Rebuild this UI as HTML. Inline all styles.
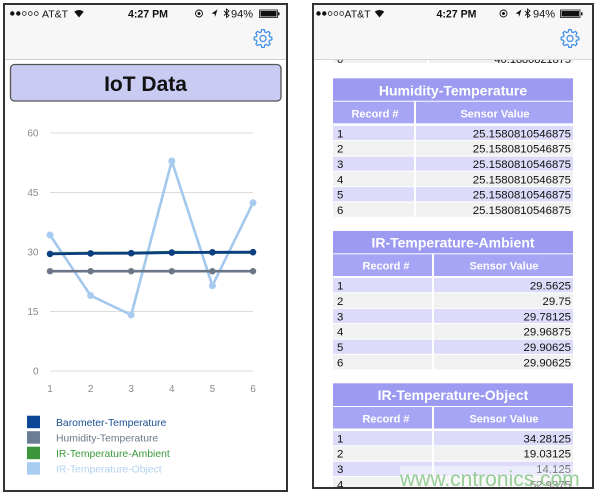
<!DOCTYPE html>
<html><head><meta charset="utf-8"><style>
html,body{margin:0;padding:0;background:#fff;}
svg{display:block;}
text{font-family:"Liberation Sans",Arial,sans-serif;}
</style></head><body>
<svg width="600" height="496" viewBox="0 0 600 496" xmlns="http://www.w3.org/2000/svg">
<defs>
<clipPath id="cr"><rect x="313" y="4" width="280" height="484"/></clipPath>
<g id="gear">
<polygon points="5.77,-1.66 7.92,-1.11 7.92,1.11 5.77,1.66 5.25,2.91 6.39,4.81 4.81,6.39 2.91,5.25 1.66,5.77 1.11,7.92 -1.11,7.92 -1.66,5.77 -2.91,5.25 -4.81,6.39 -6.39,4.81 -5.25,2.91 -5.77,1.66 -7.92,1.11 -7.92,-1.11 -5.77,-1.66 -5.25,-2.91 -6.39,-4.81 -4.81,-6.39 -2.91,-5.25 -1.66,-5.77 -1.11,-7.92 1.11,-7.92 1.66,-5.77 2.91,-5.25 4.81,-6.39 6.39,-4.81 5.25,-2.91" fill="none" stroke="#3d8ee8" stroke-width="1.1" stroke-linejoin="round"/>
<circle cx="0" cy="0" r="2.7" fill="none" stroke="#3d8ee8" stroke-width="1.1"/>
</g>
</defs>
<rect width="600" height="496" fill="#fff"/>

<!-- ================= LEFT PHONE ================= -->
<rect x="4" y="4" width="283" height="55" fill="#f7f7f7"/>
<line x1="4" y1="59.5" x2="287" y2="59.5" stroke="#cfcfcf" stroke-width="1"/>
<!-- status bar -->
<circle cx="12.3" cy="13.5" r="2.2" fill="#111"/>
<circle cx="18.3" cy="13.5" r="2.2" fill="#111"/>
<circle cx="24.3" cy="13.5" r="1.9" fill="none" stroke="#111" stroke-width="0.7"/>
<circle cx="30.3" cy="13.5" r="1.9" fill="none" stroke="#111" stroke-width="0.7"/>
<circle cx="36.3" cy="13.5" r="1.9" fill="none" stroke="#111" stroke-width="0.7"/>
<text x="42" y="17.5" font-size="10.5" fill="#111">AT&amp;T</text>
<path d="M79,17.5 L74.3,11.8 A7,7 0 0 1 83.7,11.8 Z" fill="#111"/>
<text x="148" y="17.5" font-size="10.6" font-weight="bold" fill="#111" text-anchor="middle">4:27 PM</text>
<circle cx="199" cy="13.5" r="3.5" fill="none" stroke="#111" stroke-width="0.9"/>
<circle cx="199" cy="13.5" r="1.5" fill="#111"/>
<path d="M217.5,9.5 L211.5,13.5 L214.5,13.8 L215,17 Z" fill="#111"/>
<path d="M224,11 L229,15.5 L226.5,17.5 L226.5,9 L229,11 L224,15.5" fill="none" stroke="#111" stroke-width="0.9"/>
<text x="231" y="17.5" font-size="11" fill="#111">94%</text>
<rect x="259.5" y="10" width="18" height="7.5" fill="none" stroke="#111" stroke-width="0.8"/>
<rect x="260.5" y="11" width="16" height="5.5" fill="#111"/>
<rect x="278" y="12.3" width="1.5" height="3" fill="#111"/>
<use href="#gear" transform="translate(263,38.5) scale(1.12)"/>

<!-- title box -->
<rect x="10.5" y="64.5" width="270.5" height="36.5" rx="4" fill="#c9cbf3" stroke="#555" stroke-width="1.3"/>
<text x="145.5" y="91" font-size="21" font-weight="bold" fill="#111" text-anchor="middle">IoT Data</text>

<!-- chart grid -->
<g stroke="#dcdcdc" stroke-width="1">
<line x1="50" y1="133" x2="253" y2="133"/>
<line x1="50" y1="192.5" x2="253" y2="192.5"/>
<line x1="50" y1="252" x2="253" y2="252"/>
<line x1="50" y1="311.5" x2="253" y2="311.5"/>
<line x1="50" y1="371" x2="253" y2="371"/>
</g>
<g font-size="10" fill="#8a8a8a" text-anchor="end">
<text x="38.5" y="136.5">60</text>
<text x="38.5" y="196">45</text>
<text x="38.5" y="255.5">30</text>
<text x="38.5" y="315">15</text>
<text x="38.5" y="374.5">0</text>
</g>
<g font-size="10" fill="#8a8a8a" text-anchor="middle">
<text x="50" y="392">1</text>
<text x="90.6" y="392">2</text>
<text x="131.2" y="392">3</text>
<text x="171.8" y="392">4</text>
<text x="212.4" y="392">5</text>
<text x="253" y="392">6</text>
</g>

<!-- series -->
<polyline points="50,235 90.6,295.5 131.2,315 171.8,161 212.4,285.7 253,202.8" fill="none" stroke="#a3c8ee" stroke-width="2.6" stroke-linejoin="round"/>
<g fill="#a8ccf0">
<circle cx="50" cy="235" r="3.5"/><circle cx="90.6" cy="295.5" r="3.5"/><circle cx="131.2" cy="315" r="3.5"/><circle cx="171.8" cy="161" r="3.5"/><circle cx="212.4" cy="285.7" r="3.5"/><circle cx="253" cy="202.8" r="3.5"/>
</g>
<polyline points="50,271.2 90.6,271.2 131.2,271.2 171.8,271.2 212.4,271.2 253,271.2" fill="none" stroke="#6b7788" stroke-width="2.6"/>
<g fill="#6b7788">
<circle cx="50" cy="271.2" r="3.2"/><circle cx="90.6" cy="271.2" r="3.2"/><circle cx="131.2" cy="271.2" r="3.2"/><circle cx="171.8" cy="271.2" r="3.2"/><circle cx="212.4" cy="271.2" r="3.2"/><circle cx="253" cy="271.2" r="3.2"/>
</g>
<polyline points="50,253.7 90.6,253 131.2,252.9 171.8,252.1 212.4,252.4 253,252.4" fill="none" stroke="#3b963b" stroke-width="2.6"/>
<polyline points="50,253.9 90.6,253.4 131.2,253.2 171.8,252.6 212.4,252.3 253,252.2" fill="none" stroke="#0c3f80" stroke-width="2.8"/>
<g fill="#0c3f80">
<circle cx="50" cy="253.9" r="3.3"/><circle cx="90.6" cy="253.4" r="3.3"/><circle cx="131.2" cy="253.2" r="3.3"/><circle cx="171.8" cy="252.6" r="3.3"/><circle cx="212.4" cy="252.3" r="3.3"/><circle cx="253" cy="252.2" r="3.3"/>
</g>

<!-- legend -->
<rect x="27" y="415.7" width="13" height="12.5" fill="#0c4796"/>
<rect x="27" y="431.2" width="13" height="12.5" fill="#6b7d94"/>
<rect x="27" y="446.7" width="13" height="12.5" fill="#3b963b"/>
<rect x="27" y="462.2" width="13" height="12.5" fill="#a8cdf1"/>
<g font-size="10.4">
<text x="56" y="426" fill="#1a4f8f">Barometer-Temperature</text>
<text x="56" y="441.5" fill="#6b7a8a">Humidity-Temperature</text>
<text x="56" y="457" fill="#3a9a3a">IR-Temperature-Ambient</text>
<text x="56" y="472.5" fill="#b3d2f0">IR-Temperature-Object</text>
</g>

<rect x="4" y="4" width="283" height="487" fill="none" stroke="#333" stroke-width="2"/>

<!-- ================= RIGHT PHONE ================= -->
<g clip-path="url(#cr)">
<!-- partial row at top -->
<rect x="333" y="52" width="94" height="11" fill="#f1f1f1"/>
<rect x="429" y="52" width="144" height="11" fill="#f1f1f1"/>
<g font-size="11" fill="#111">
<text x="337" y="63">6</text>
<text x="571" y="63" text-anchor="end">40.1880821875</text>
</g>

<!-- Humidity table -->
<rect x="333" y="78.3" width="240" height="22.4" fill="#9d9af2"/>
<text x="453" y="95.7" font-size="14" font-weight="bold" fill="#fff" text-anchor="middle">Humidity-Temperature</text>
<rect x="333" y="101.7" width="81" height="21.6" fill="#a6a4f4"/>
<rect x="416" y="101.7" width="157" height="21.6" fill="#a6a4f4"/>
<g font-size="11" font-weight="bold" fill="#fff" text-anchor="middle">
<text x="375" y="117.3">Record #</text>
<text x="495" y="117.3">Sensor Value</text>
</g>
<g>
<rect x="333" y="125.8" width="81" height="14.3" fill="#dcdcfa"/><rect x="416" y="125.8" width="157" height="14.3" fill="#dcdcfa"/>
<rect x="333" y="141.1" width="81" height="14.3" fill="#f1f1f1"/><rect x="416" y="141.1" width="157" height="14.3" fill="#f1f1f1"/>
<rect x="333" y="156.5" width="81" height="14.3" fill="#dcdcfa"/><rect x="416" y="156.5" width="157" height="14.3" fill="#dcdcfa"/>
<rect x="333" y="171.8" width="81" height="14.3" fill="#f1f1f1"/><rect x="416" y="171.8" width="157" height="14.3" fill="#f1f1f1"/>
<rect x="333" y="187.1" width="81" height="14.3" fill="#dcdcfa"/><rect x="416" y="187.1" width="157" height="14.3" fill="#dcdcfa"/>
<rect x="333" y="202.5" width="81" height="14.3" fill="#f1f1f1"/><rect x="416" y="202.5" width="157" height="14.3" fill="#f1f1f1"/>
</g>
<g font-size="11.4" fill="#111">
<text x="337" y="137.3">1</text><text x="571" y="137.3" text-anchor="end">25.1580810546875</text>
<text x="337" y="152.7">2</text><text x="571" y="152.7" text-anchor="end">25.1580810546875</text>
<text x="337" y="168">3</text><text x="571" y="168" text-anchor="end">25.1580810546875</text>
<text x="337" y="183.3">4</text><text x="571" y="183.3" text-anchor="end">25.1580810546875</text>
<text x="337" y="198.7">5</text><text x="571" y="198.7" text-anchor="end">25.1580810546875</text>
<text x="337" y="214">6</text><text x="571" y="214" text-anchor="end">25.1580810546875</text>
</g>

<!-- IR Ambient table -->
<rect x="333" y="231" width="240" height="22.3" fill="#9d9af2"/>
<text x="453" y="247.7" font-size="14" font-weight="bold" fill="#fff" text-anchor="middle">IR-Temperature-Ambient</text>
<rect x="333" y="254.3" width="99" height="21.7" fill="#a6a4f4"/>
<rect x="434" y="254.3" width="139" height="21.7" fill="#a6a4f4"/>
<g font-size="11" font-weight="bold" fill="#fff" text-anchor="middle">
<text x="386" y="269.7">Record #</text>
<text x="504" y="269.7">Sensor Value</text>
</g>
<g>
<rect x="333" y="278" width="99" height="14.3" fill="#dcdcfa"/><rect x="434" y="278" width="139" height="14.3" fill="#dcdcfa"/>
<rect x="333" y="293.4" width="99" height="14.3" fill="#f1f1f1"/><rect x="434" y="293.4" width="139" height="14.3" fill="#f1f1f1"/>
<rect x="333" y="308.8" width="99" height="14.3" fill="#dcdcfa"/><rect x="434" y="308.8" width="139" height="14.3" fill="#dcdcfa"/>
<rect x="333" y="324.2" width="99" height="14.3" fill="#f1f1f1"/><rect x="434" y="324.2" width="139" height="14.3" fill="#f1f1f1"/>
<rect x="333" y="339.6" width="99" height="14.3" fill="#dcdcfa"/><rect x="434" y="339.6" width="139" height="14.3" fill="#dcdcfa"/>
<rect x="333" y="355" width="99" height="14.3" fill="#f1f1f1"/><rect x="434" y="355" width="139" height="14.3" fill="#f1f1f1"/>
</g>
<g font-size="11.4" fill="#111">
<text x="337" y="289.5">1</text><text x="571" y="289.5" text-anchor="end">29.5625</text>
<text x="337" y="304.9">2</text><text x="571" y="304.9" text-anchor="end">29.75</text>
<text x="337" y="320.3">3</text><text x="571" y="320.3" text-anchor="end">29.78125</text>
<text x="337" y="335.7">4</text><text x="571" y="335.7" text-anchor="end">29.96875</text>
<text x="337" y="351.1">5</text><text x="571" y="351.1" text-anchor="end">29.90625</text>
<text x="337" y="366.5">6</text><text x="571" y="366.5" text-anchor="end">29.90625</text>
</g>

<!-- IR Object table -->
<rect x="333" y="383.3" width="240" height="22.7" fill="#9d9af2"/>
<text x="453" y="400" font-size="14" font-weight="bold" fill="#fff" text-anchor="middle">IR-Temperature-Object</text>
<rect x="333" y="407" width="99" height="21.5" fill="#a6a4f4"/>
<rect x="434" y="407" width="139" height="21.5" fill="#a6a4f4"/>
<g font-size="11" font-weight="bold" fill="#fff" text-anchor="middle">
<text x="386" y="422.3">Record #</text>
<text x="504" y="422.3">Sensor Value</text>
</g>
<g>
<rect x="333" y="431" width="99" height="14.3" fill="#dcdcfa"/><rect x="434" y="431" width="139" height="14.3" fill="#dcdcfa"/>
<rect x="333" y="446.3" width="99" height="14.3" fill="#f1f1f1"/><rect x="434" y="446.3" width="139" height="14.3" fill="#f1f1f1"/>
<rect x="333" y="461.7" width="99" height="14.3" fill="#dcdcfa"/><rect x="434" y="461.7" width="139" height="14.3" fill="#dcdcfa"/>
<rect x="333" y="477" width="99" height="14.3" fill="#f1f1f1"/><rect x="434" y="477" width="139" height="14.3" fill="#f1f1f1"/>
</g>
<g font-size="11.4" fill="#111">
<text x="337" y="442.3">1</text><text x="571" y="442.3" text-anchor="end">34.28125</text>
<text x="337" y="457.7">2</text><text x="571" y="457.7" text-anchor="end">19.03125</text>
<text x="337" y="473">3</text><text x="571" y="473" text-anchor="end">14.125</text>
<text x="337" y="488.3">4</text><text x="571" y="488.3" text-anchor="end">52.9375</text>
</g>
</g>

<!-- right nav bar (drawn over content) -->
<rect x="313" y="4" width="280" height="55" fill="#f7f7f7"/>
<line x1="313" y1="59.5" x2="593" y2="59.5" stroke="#d5d5d5" stroke-width="1"/>
<circle cx="318.5" cy="13.5" r="2.2" fill="#111"/>
<circle cx="324.3" cy="13.5" r="2.2" fill="#111"/>
<circle cx="330.1" cy="13.5" r="1.9" fill="none" stroke="#111" stroke-width="0.7"/>
<circle cx="335.9" cy="13.5" r="1.9" fill="none" stroke="#111" stroke-width="0.7"/>
<circle cx="341.7" cy="13.5" r="1.9" fill="none" stroke="#111" stroke-width="0.7"/>
<text x="344.5" y="17.5" font-size="10.5" fill="#111">AT&amp;T</text>
<path d="M379.5,17.5 L374.8,11.8 A7,7 0 0 1 384.2,11.8 Z" fill="#111"/>
<text x="456.5" y="17.5" font-size="10.6" font-weight="bold" fill="#111" text-anchor="middle">4:27 PM</text>
<circle cx="503.5" cy="13.5" r="3.5" fill="none" stroke="#111" stroke-width="0.9"/>
<circle cx="503.5" cy="13.5" r="1.5" fill="#111"/>
<path d="M521.5,9.5 L515.5,13.5 L518.5,13.8 L519,17 Z" fill="#111"/>
<path d="M525,11 L530,15.5 L527.5,17.5 L527.5,9 L530,11 L525,15.5" fill="none" stroke="#111" stroke-width="0.9"/>
<text x="533" y="17.5" font-size="11" fill="#111">94%</text>
<rect x="560.5" y="10" width="19.5" height="7.5" fill="none" stroke="#111" stroke-width="0.8"/>
<rect x="561.5" y="11" width="17.5" height="5.5" fill="#111"/>
<rect x="581" y="12.3" width="1.5" height="3" fill="#111"/>
<use href="#gear" transform="translate(570,38.5) scale(1.12)"/>

<!-- watermark -->
<rect x="400" y="466" width="190" height="22" fill="#fff" opacity="0.45"/>
<text x="400" y="486" font-size="21" fill="#7fc27f" opacity="0.8">www.cntronics.com</text>

<rect x="313" y="4" width="280" height="484" fill="none" stroke="#333" stroke-width="2"/>
</svg>
</body></html>
